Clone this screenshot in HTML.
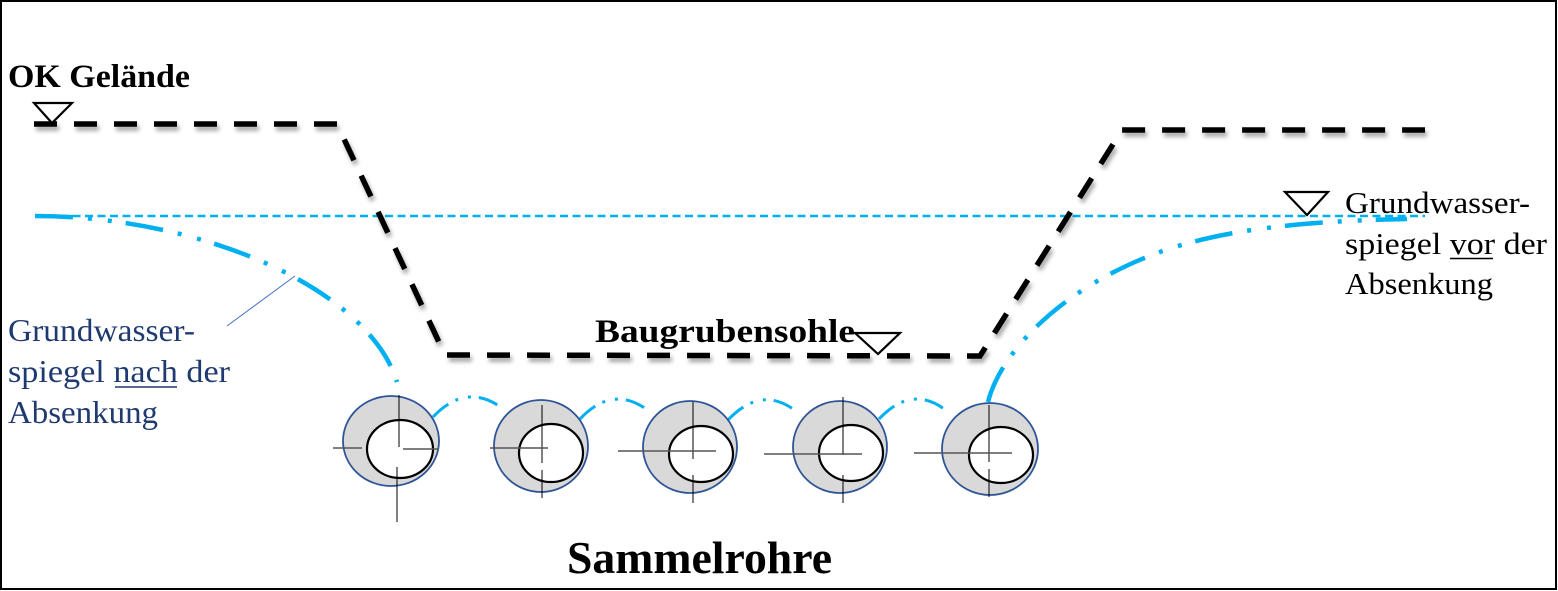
<!DOCTYPE html>
<html>
<head>
<meta charset="utf-8">
<style>
html,body{margin:0;padding:0;background:#fff;}
svg{display:block;}
</style>
</head>
<body>
<svg width="1558" height="591" viewBox="0 0 1558 591" xmlns="http://www.w3.org/2000/svg">
<defs>
<filter id="sh" x="-5%" y="-5%" width="110%" height="120%">
<feDropShadow dx="2" dy="4" stdDeviation="2" flood-color="#000" flood-opacity="0.35"/>
</filter>
</defs>
<rect x="1" y="1" width="1555" height="588" fill="#fff" stroke="#000" stroke-width="2"/>

<!-- groundwater before (dashed horizontal) -->
<line x1="35" y1="216" x2="1425" y2="216" stroke="#00b0f0" stroke-width="2.5" stroke-dasharray="8 4.5"/>

<!-- excavation outline -->
<path d="M34,124 L337,124 L445,355 L980,356 L1122,130 L1425,130" fill="none" stroke="#000" stroke-width="5.5" stroke-dasharray="23 17" filter="url(#sh)"/>

<!-- groundwater after, left & right -->
<path d="M35,216 C200,216 368,288 397,382" fill="none" stroke="#00b0f0" stroke-width="4.5" stroke-dasharray="38 15 4 16 4 14"/>
<path d="M988,402 C1000,355 1050,305 1112,273 C1170,243 1240,222 1407,219" fill="none" stroke="#00b0f0" stroke-width="4.5" stroke-dasharray="38 15 4 16 4 14"/>

<!-- arcs between pipes -->
<g fill="none" stroke="#00b0f0" stroke-width="3" stroke-dasharray="20 8 3 10 3 8">
<path d="M433,417 Q466,382 502,408"/>
<path d="M580,419 Q614,383 650,412"/>
<path d="M728,420 Q762,384 797,412"/>
<path d="M879,419 Q913,383 948,412"/>
</g>

<!-- pipes -->
<g stroke-linecap="butt">
<ellipse cx="391" cy="441" rx="48" ry="45" fill="#d9d9d9" stroke="#2f5597" stroke-width="1.8"/>
<ellipse cx="400" cy="449" rx="33" ry="29" fill="#fff" stroke="#000" stroke-width="2.2"/>
<line x1="399" y1="395" x2="399" y2="447" stroke="#000" stroke-width="1"/>
<line x1="397" y1="467" x2="397" y2="522" stroke="#000" stroke-width="1"/>
<line x1="333" y1="448" x2="362" y2="448" stroke="#555" stroke-width="1.5"/>
<line x1="403" y1="449" x2="439" y2="449" stroke="#555" stroke-width="1.5"/>

<ellipse cx="541" cy="446" rx="47" ry="46" fill="#d9d9d9" stroke="#2f5597" stroke-width="1.8"/>
<ellipse cx="551" cy="453" rx="32" ry="29" fill="#fff" stroke="#000" stroke-width="2.2"/>
<line x1="542" y1="405" x2="542" y2="463" stroke="#000" stroke-width="1"/>
<line x1="542" y1="470" x2="542" y2="498" stroke="#000" stroke-width="1"/>
<line x1="490" y1="448" x2="548" y2="448" stroke="#555" stroke-width="1.5"/>

<ellipse cx="690" cy="447" rx="47" ry="46" fill="#d9d9d9" stroke="#2f5597" stroke-width="1.8"/>
<ellipse cx="701" cy="454" rx="32" ry="28" fill="#fff" stroke="#000" stroke-width="2.2"/>
<line x1="693" y1="402" x2="693" y2="459" stroke="#000" stroke-width="1"/>
<line x1="693" y1="475" x2="693" y2="503" stroke="#000" stroke-width="1"/>
<line x1="618" y1="451" x2="716" y2="451" stroke="#555" stroke-width="1.5"/>

<ellipse cx="840" cy="447" rx="47" ry="46" fill="#d9d9d9" stroke="#2f5597" stroke-width="1.8"/>
<ellipse cx="851" cy="453" rx="32" ry="28" fill="#fff" stroke="#000" stroke-width="2.2"/>
<line x1="843" y1="397" x2="843" y2="455" stroke="#000" stroke-width="1"/>
<line x1="843" y1="475" x2="843" y2="503" stroke="#000" stroke-width="1"/>
<line x1="764" y1="454" x2="862" y2="454" stroke="#555" stroke-width="1.5"/>

<ellipse cx="990" cy="449" rx="48" ry="46" fill="#d9d9d9" stroke="#2f5597" stroke-width="1.8"/>
<ellipse cx="1001" cy="455" rx="32" ry="28" fill="#fff" stroke="#000" stroke-width="2.2"/>
<line x1="989" y1="405" x2="989" y2="462" stroke="#000" stroke-width="1"/>
<line x1="989" y1="469" x2="989" y2="497" stroke="#000" stroke-width="1"/>
<line x1="914" y1="453" x2="1012" y2="453" stroke="#555" stroke-width="1.5"/>
</g>

<!-- triangles -->
<g fill="#fff" stroke="#000" stroke-width="2.2" stroke-linejoin="miter">
<polygon points="34,103 72,103 52,123"/>
<polygon points="855,333 900,333 878,354"/>
<polygon points="1285,192 1328,192 1307,215"/>
</g>

<!-- leader line -->
<line x1="227" y1="326" x2="295" y2="276" stroke="#4472c4" stroke-width="1"/>

<!-- texts -->
<g font-family="'Liberation Serif', 'Times New Roman', serif">
<text x="8" y="87" font-size="33" font-weight="bold" textLength="182" lengthAdjust="spacingAndGlyphs">OK Gelände</text>
<text x="595" y="342" font-size="33" font-weight="bold" textLength="260" lengthAdjust="spacingAndGlyphs">Baugrubensohle</text>
<text x="567" y="573" font-size="45" font-weight="bold" textLength="265" lengthAdjust="spacingAndGlyphs">Sammelrohre</text>

<g fill="#000" font-size="31">
<text x="1345" y="213" textLength="185" lengthAdjust="spacingAndGlyphs">Grundwasser-</text>
<text x="1345" y="254" textLength="202" lengthAdjust="spacingAndGlyphs">spiegel vor der</text>
<text x="1345" y="294" textLength="148" lengthAdjust="spacingAndGlyphs">Absenkung</text>
</g>
<line x1="1450" y1="258.5" x2="1493" y2="258.5" stroke="#000" stroke-width="1.5"/>

<g fill="#1f3a70" font-size="32">
<text x="8" y="341" textLength="187" lengthAdjust="spacingAndGlyphs">Grundwasser-</text>
<text x="8" y="382" textLength="222" lengthAdjust="spacingAndGlyphs">spiegel nach der</text>
<text x="8" y="423" textLength="150" lengthAdjust="spacingAndGlyphs">Absenkung</text>
</g>
<line x1="115" y1="387" x2="177" y2="387" stroke="#1f3a70" stroke-width="1.5"/>
</g>
</svg>
</body>
</html>
